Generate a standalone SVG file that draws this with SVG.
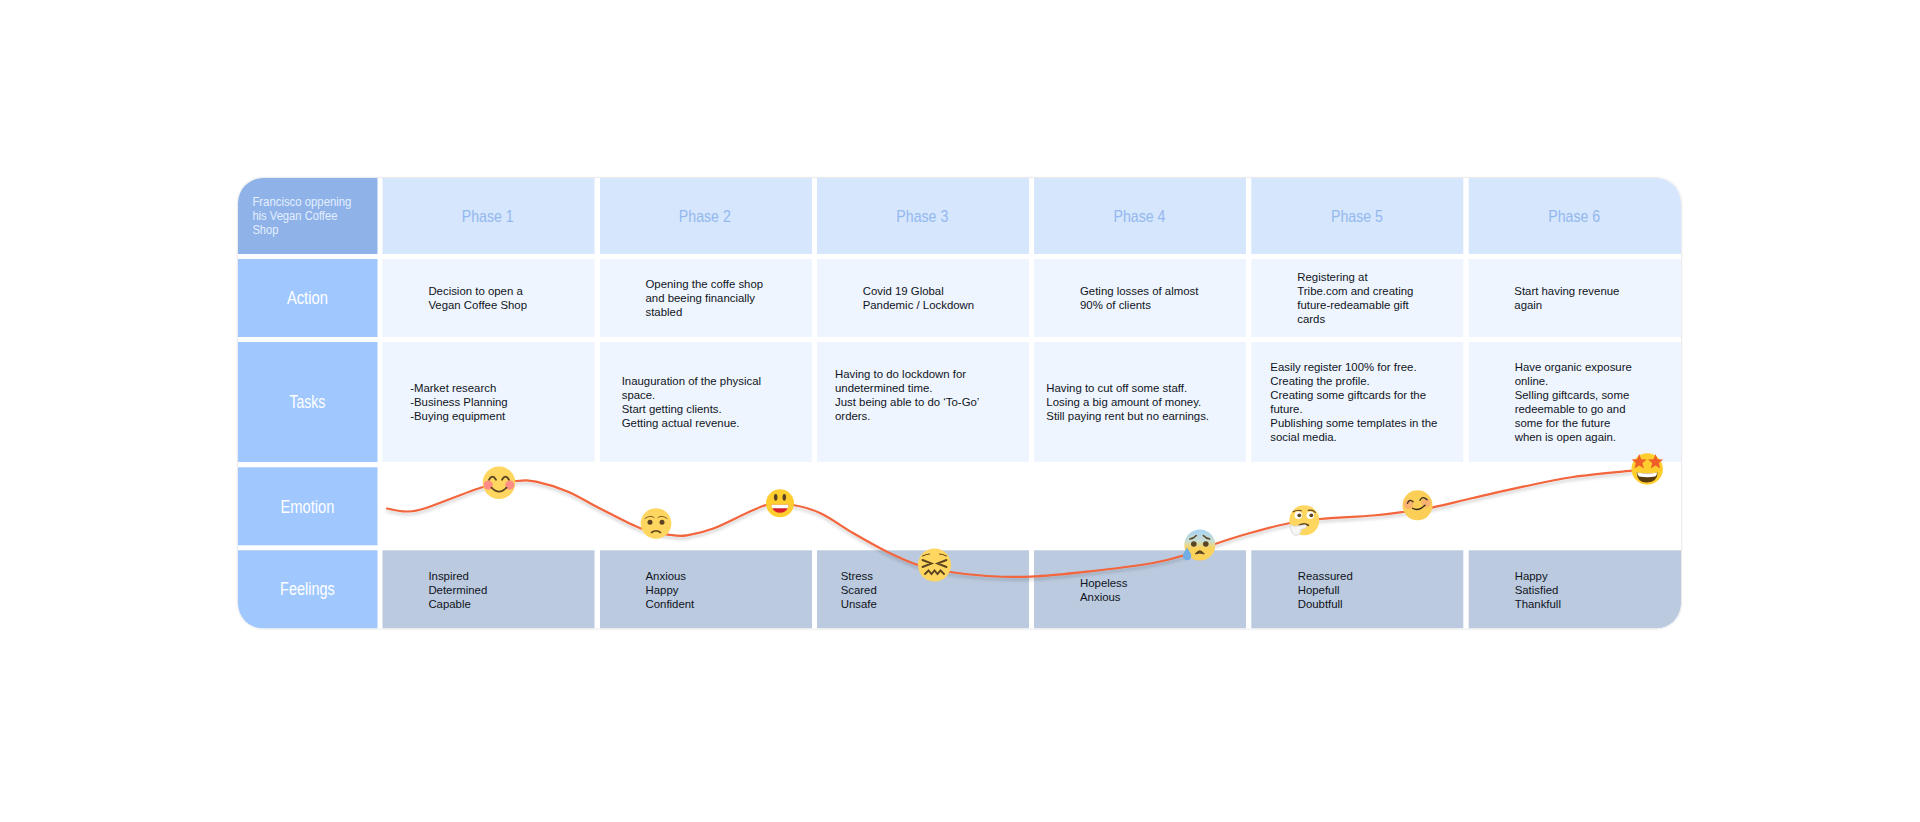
<svg xmlns="http://www.w3.org/2000/svg" xmlns:xlink="http://www.w3.org/1999/xlink" width="1920" height="822" viewBox="0 0 1920 822">
<style>
text{font-family:"Liberation Sans",Arial,sans-serif}
.b{font-size:11.4px;fill:#10141c}
.ph{font-size:17px;fill:#93b8ee;text-anchor:middle}
.lb{font-size:17.500px;fill:#fff;text-anchor:middle}
.hd{font-size:13px;fill:#e4eeff}
.c0{fill:#8fb3e8}.c1{fill:#a0c8ff}.c2{fill:#d6e6fd}.c3{fill:#eef5ff}.c4{fill:#bbcadf}
.f1{fill:#ffd65f}.f2{fill:#ffce2e}.f3{fill:#fbcf57}
.l{fill:none;stroke:#5b4422;stroke-linecap:round}
.d{fill:#5b4422}
</style>
<defs>
<clipPath id="card"><rect x="238" y="178" width="1443" height="450.500" rx="25"/></clipPath>
<filter id="sh" x="-5%" y="-20%" width="110%" height="140%"><feDropShadow dx="0" dy="2.500" stdDeviation="1.500" flood-color="#000" flood-opacity=".2"/></filter>
<filter id="cs" x="-3%" y="-5%" width="106%" height="110%"><feDropShadow dx="0" dy="0" stdDeviation="1.200" flood-color="#000" flood-opacity=".22"/></filter>
<linearGradient id="cold" x1="0" y1="0" x2="0" y2="1"><stop offset="0" stop-color="#a8d3f5"/><stop offset=".38" stop-color="#c9ddd0"/><stop offset=".6" stop-color="#fbd25a"/></linearGradient>
<polygon id="star" points="0,-8 2.100,-2.800 7.600,-2.500 3.300,.9 4.700,6.500 0,3.500 -4.700,6.500 -3.300,.9 -7.600,-2.500 -2.100,-2.800" fill="#ee5f2a"/>
</defs>
<rect width="1920" height="822" fill="#fff"/>
<rect id="card-bg" x="238" y="178" width="1443" height="450.500" rx="25" fill="#fff" filter="url(#cs)"/>
<g clip-path="url(#card)">
<g id="header">
<rect class="c0" x="238" y="178" width="139.500" height="76"/>
<text class="hd" x="252.400" y="206" textLength="99" lengthAdjust="spacingAndGlyphs">Francisco oppening</text>
<text class="hd" x="252.400" y="220" textLength="85" lengthAdjust="spacingAndGlyphs">his Vegan Coffee</text>
<text class="hd" x="252.400" y="234" textLength="26" lengthAdjust="spacingAndGlyphs">Shop</text>
</g>
<g id="phase-1"><rect class="c2" x="382.500" y="178" width="212" height="76"/><text class="ph" x="487.700" y="222" textLength="52" lengthAdjust="spacingAndGlyphs">Phase 1</text></g>
<g id="phase-2"><rect class="c2" x="600" y="178" width="212" height="76"/><text class="ph" x="704.800" y="222" textLength="52" lengthAdjust="spacingAndGlyphs">Phase 2</text></g>
<g id="phase-3"><rect class="c2" x="817" y="178" width="212" height="76"/><text class="ph" x="922.300" y="222" textLength="52" lengthAdjust="spacingAndGlyphs">Phase 3</text></g>
<g id="phase-4"><rect class="c2" x="1034" y="178" width="212" height="76"/><text class="ph" x="1139.500" y="222" textLength="52" lengthAdjust="spacingAndGlyphs">Phase 4</text></g>
<g id="phase-5"><rect class="c2" x="1251.300" y="178" width="212" height="76"/><text class="ph" x="1357" y="222" textLength="52" lengthAdjust="spacingAndGlyphs">Phase 5</text></g>
<g id="phase-6"><rect class="c2" x="1468.700" y="178" width="212.300" height="76"/><text class="ph" x="1574.200" y="222" textLength="52" lengthAdjust="spacingAndGlyphs">Phase 6</text></g>

<g id="label-action"><rect class="c1" x="238" y="259" width="139.500" height="78"/><text class="lb" x="307.400" y="304.300" textLength="41" lengthAdjust="spacingAndGlyphs">Action</text></g>
<g id="label-tasks"><rect class="c1" x="238" y="342" width="139.500" height="120"/><text class="lb" x="307.400" y="408.300" textLength="36" lengthAdjust="spacingAndGlyphs">Tasks</text></g>
<g id="label-emotion"><rect class="c1" x="238" y="467.300" width="139.500" height="78"/><text class="lb" x="307.400" y="512.700" textLength="54" lengthAdjust="spacingAndGlyphs">Emotion</text></g>
<g id="label-feelings"><rect class="c1" x="238" y="550.300" width="139.500" height="78.200"/><text class="lb" x="307.400" y="595.300" textLength="54.600" lengthAdjust="spacingAndGlyphs">Feelings</text></g>

<g id="action-1"><rect class="c3" x="382.500" y="259" width="212" height="78"/><text class="b" x="428.400" y="295.300">Decision to open a<tspan x="428.400" dy="14">Vegan Coffee Shop</tspan></text></g>
<g id="action-2"><rect class="c3" x="600" y="259" width="212" height="78"/><text class="b" x="645.500" y="288.300">Opening the coffe shop<tspan x="645.500" dy="14">and beeing financially</tspan><tspan x="645.500" dy="14">stabled</tspan></text></g>
<g id="action-3"><rect class="c3" x="817" y="259" width="212" height="78"/><text class="b" x="862.700" y="295.300">Covid 19 Global<tspan x="862.700" dy="14">Pandemic / Lockdown</tspan></text></g>
<g id="action-4"><rect class="c3" x="1034" y="259" width="212" height="78"/><text class="b" x="1080" y="295.300">Geting losses of almost<tspan x="1080" dy="14">90% of clients</tspan></text></g>
<g id="action-5"><rect class="c3" x="1251.300" y="259" width="212" height="78"/><text class="b" x="1297.300" y="281.300">Registering at<tspan x="1297.300" dy="14">Tribe.com and creating</tspan><tspan x="1297.300" dy="14">future-redeamable gift</tspan><tspan x="1297.300" dy="14">cards</tspan></text></g>
<g id="action-6"><rect class="c3" x="1468.700" y="259" width="212.300" height="78"/><text class="b" x="1514.300" y="295.300">Start having revenue<tspan x="1514.300" dy="14">again</tspan></text></g>

<g id="tasks-1"><rect class="c3" x="382.500" y="342" width="212" height="120"/><text class="b" x="410.200" y="392.300">-Market research<tspan x="410.200" dy="14">-Business Planning</tspan><tspan x="410.200" dy="14">-Buying equipment</tspan></text></g>
<g id="tasks-2"><rect class="c3" x="600" y="342" width="212" height="120"/><text class="b" x="621.700" y="385.300">Inauguration of the physical<tspan x="621.700" dy="14">space.</tspan><tspan x="621.700" dy="14">Start getting clients.</tspan><tspan x="621.700" dy="14">Getting actual revenue.</tspan></text></g>
<g id="tasks-3"><rect class="c3" x="817" y="342" width="212" height="120"/><text class="b" x="835" y="378.300">Having to do lockdown for<tspan x="835" dy="14">undetermined time.</tspan><tspan x="835" dy="14">Just being able to do ‘To-Go’</tspan><tspan x="835" dy="14">orders.</tspan></text></g>
<g id="tasks-4"><rect class="c3" x="1034" y="342" width="212" height="120"/><text class="b" x="1046.300" y="392.300">Having to cut off some staff.<tspan x="1046.300" dy="14">Losing a big amount of money.</tspan><tspan x="1046.300" dy="14">Still paying rent but no earnings.</tspan></text></g>
<g id="tasks-5"><rect class="c3" x="1251.300" y="342" width="212" height="120"/><text class="b" x="1270.300" y="371.300">Easily register 100% for free.<tspan x="1270.300" dy="14">Creating the profile.</tspan><tspan x="1270.300" dy="14">Creating some giftcards for the</tspan><tspan x="1270.300" dy="14">future.</tspan><tspan x="1270.300" dy="14">Publishing some templates in the</tspan><tspan x="1270.300" dy="14">social media.</tspan></text></g>
<g id="tasks-6"><rect class="c3" x="1468.700" y="342" width="212.300" height="120"/><text class="b" x="1514.700" y="371.300">Have organic exposure<tspan x="1514.700" dy="14">online.</tspan><tspan x="1514.700" dy="14">Selling giftcards, some</tspan><tspan x="1514.700" dy="14">redeemable to go and</tspan><tspan x="1514.700" dy="14">some for the future</tspan><tspan x="1514.700" dy="14">when is open again.</tspan></text></g>

<g id="feelings-1"><rect class="c4" x="382.500" y="550.300" width="212" height="78.200"/><text class="b" x="428.400" y="579.800">Inspired<tspan x="428.400" dy="14">Determined</tspan><tspan x="428.400" dy="14">Capable</tspan></text></g>
<g id="feelings-2"><rect class="c4" x="600" y="550.300" width="212" height="78.200"/><text class="b" x="645.500" y="579.800">Anxious<tspan x="645.500" dy="14">Happy</tspan><tspan x="645.500" dy="14">Confident</tspan></text></g>
<g id="feelings-3"><rect class="c4" x="817" y="550.300" width="212" height="78.200"/><text class="b" x="840.700" y="579.800">Stress<tspan x="840.700" dy="14">Scared</tspan><tspan x="840.700" dy="14">Unsafe</tspan></text></g>
<g id="feelings-4"><rect class="c4" x="1034" y="550.300" width="212" height="78.200"/><text class="b" x="1080" y="586.700">Hopeless<tspan x="1080" dy="14">Anxious</tspan></text></g>
<g id="feelings-5"><rect class="c4" x="1251.300" y="550.300" width="212" height="78.200"/><text class="b" x="1297.700" y="579.800">Reassured<tspan x="1297.700" dy="14">Hopefull</tspan><tspan x="1297.700" dy="14">Doubtfull</tspan></text></g>
<g id="feelings-6"><rect class="c4" x="1468.700" y="550.300" width="212.300" height="78.200"/><text class="b" x="1514.700" y="579.800">Happy<tspan x="1514.700" dy="14">Satisfied</tspan><tspan x="1514.700" dy="14">Thankfull</tspan></text></g>
</g>

<g id="connectors">
<path id="emotion-curve" fill="none" stroke="#f2653c" stroke-width="2.200" stroke-linecap="round" filter="url(#sh)" d="M387 508.500C390.200 509 399.500 511.600 406 511.500S413.200 512.100 426 508S467.900 491.500 483 487S507.800 481.900 516.600 481S527.400 479.900 536 481.700S557.300 487.200 568 491.700S587.800 502.400 600 508.500S629.200 524.100 641 528.500S663.300 533.900 671 535S679.800 536.400 687 535.300S700.800 533.400 714 528.300S752.800 508.900 766 505S783.800 503.600 793 505S811 508.800 821 513.500S842 526.600 853 533S876.200 546.400 887 551.700S907.500 561.600 918 565S938.500 570.200 950 572S973.700 575.200 987 576S1013.300 577.400 1030 576.700S1066.500 574 1087 571.700S1136.700 565.800 1153 563S1174.700 558.200 1185 555S1204.200 547.700 1215 544S1237.500 536.500 1250 533S1278.300 525.300 1290 523S1306.200 520.300 1320 519S1359.200 516.700 1373 515.500S1393 513.400 1403 512S1421.300 509.600 1433 507.300S1458 501.400 1473 498S1506.300 490.200 1523 486.700S1554.800 479.700 1573 477S1622.200 471.700 1632 470.700"/>
</g>

<g id="emoji-blush" transform="translate(499 482.700)">
<circle class="f1" r="16.300"/>
<circle cx="-10.800" cy="2.400" r="4.600" fill="#ff8f86"/><circle cx="10.800" cy="2.400" r="4.600" fill="#ff8f86"/>
<path class="l" stroke-width="1.800" d="M-10-3Q-6.500-9-3-3M3-3Q6.500-9 10-3M-7.500 5Q0 13 7.500 5"/>
</g>
<g id="emoji-sad" transform="translate(656 523.500)">
<circle class="f1" r="15.300"/>
<circle class="d" cx="-6" cy="-1.300" r="2.500"/><circle class="d" cx="6" cy="-1.300" r="2.500"/>
<path class="l" stroke-width=".8" d="M-11-5Q-6-9-2-6M2-6Q6-9 11-5"/>
<path class="l" stroke-width="1.600" d="M-4.500 9Q0 5.500 4.500 9"/>
</g>
<g id="emoji-grin" transform="translate(780 503.300)">
<circle class="f2" r="14"/>
<ellipse class="d" cx="-4.300" cy="-6" rx="1.800" ry="3.400"/><ellipse class="d" cx="4.300" cy="-6" rx="1.800" ry="3.400"/>
<path d="M-8.500 1.500H8.500Q7.500 9.500 0 9.500T-8.500 1.500Z" fill="#d8202a"/>
<path d="M-8.500 1.500H8.500Q8.400 4 7.600 5H-7.600Q-8.400 4-8.500 1.500Z" fill="#fff"/>
</g>
<g id="emoji-confounded" transform="translate(934.500 565)">
<circle class="f1" r="16.500"/>
<path class="l" stroke-width="1.900" d="M-12-5L-3-1.500L-12 2M12-5L3-1.500L12 2M-9.500 9L-6 5.500L-3 9L0 5.500L3 9L6 5.500L9.500 9"/>
<path class="l" stroke-width="1" d="M-12-9Q-8-11-5-11M12-9Q8-11 5-11"/>
</g>
<g id="emoji-coldsweat" transform="translate(1199.800 545)">
<circle r="15.500" fill="url(#cold)"/>
<circle class="d" cx="-6" cy="-1" r="2.800"/><circle class="d" cx="6" cy="-1" r="2.800"/>
<path class="l" stroke-width="1.400" d="M-10-6Q-6-6.500-3.500-9.500M10-6Q6-6.500 3.500-9.500"/>
<path d="M-4.500 9Q0 2.500 4.500 9Q0 7-4.500 9Z" fill="#5b4422" stroke="#5b4422" stroke-linejoin="round"/>
<path d="M-12.700 2.500Q-8.500 8.500-8.500 11A4.200 4.200 0 0 1-16.900 11Q-16.900 8.500-12.700 2.500Z" fill="#72ace4"/>
</g>
<g id="emoji-thinking" transform="translate(1304.300 520.300)">
<circle class="f1" r="15"/>
<circle cx="-6" cy="-5" r="3.800" fill="#fff"/><circle cx="6" cy="-5" r="3.800" fill="#fff"/>
<circle class="d" cx="-5" cy="-5" r="1.900"/><circle class="d" cx="7" cy="-5" r="1.900"/>
<path class="l" stroke-width="1.200" d="M-11-8.500Q-7-11-3-9.500M4-10Q8-11 11-8"/>
<path class="l" stroke-width="1.800" d="M-5 5Q0 2 4 5"/>
<path d="M-13 4Q-12 6-9 6L1 4.500Q3 6 1 8L-3 9Q-3 13-7 15Q-11 15.500-12 13Q-15 8-13 4Z" fill="#f5f5f5" stroke="#d5d5d5" stroke-width=".8"/>
</g>
<g id="emoji-smile" transform="translate(1417.500 505.300)">
<circle class="f3" r="15"/>
<circle cx="-9" cy="-1" r="4.500" fill="#f6a27c" opacity=".65"/><circle cx="8.500" cy="-2.500" r="4.500" fill="#f6a27c" opacity=".65"/>
<path fill="none" stroke="#332a1a" stroke-width="1.300" stroke-linecap="round" d="M-10-2Q-8-7-4.500-3.500M2.500-5Q5-10 9.500-5.500M-5 3Q1 6.500 7.500 0"/>
</g>
<g id="emoji-star" transform="translate(1647.200 469)">
<circle class="f2" r="15.700"/>
<path d="M-10.500 3.500Q0 5.500 10.500 3.500Q10 13 0 13.500T-10.500 3.500Z" fill="#5a3b0c"/>
<path d="M-10 3.500Q0 5.500 10 3.500Q9.500 7 8 7.500Q0 9-8 7.500Q-9.500 7-10 3.500Z" fill="#fff"/>
<use xlink:href="#star" href="#star" x="-8" y="-7"/><use xlink:href="#star" href="#star" x="8.300" y="-7"/>
</g>
</svg>
